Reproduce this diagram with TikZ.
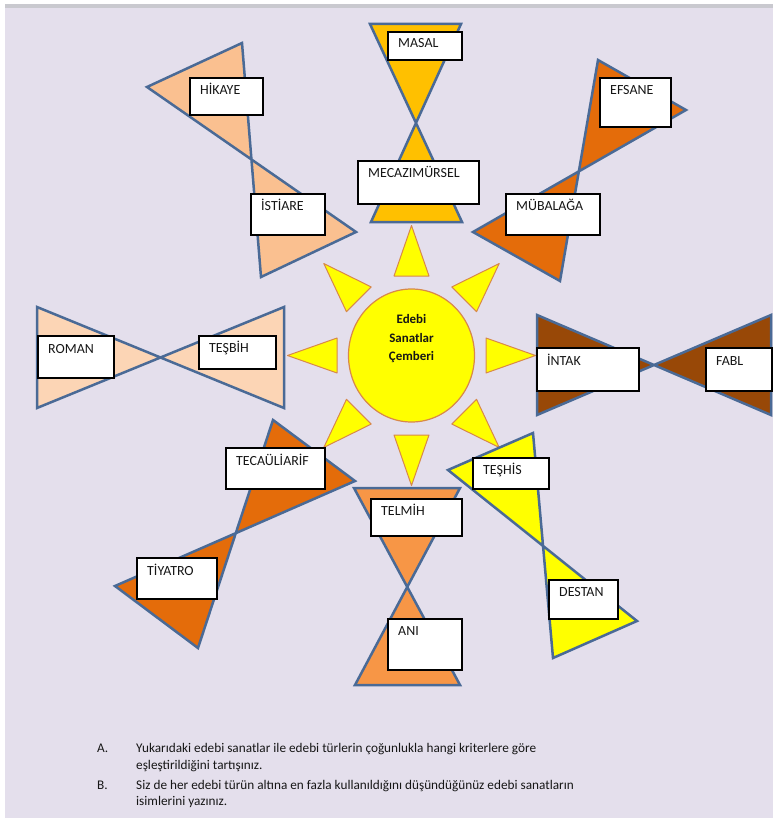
\documentclass[tikz,border=0pt]{standalone}
\usepackage{fontspec}
\setmainfont{Carlito}
\usetikzlibrary{positioning}
\definecolor{pagebg}{HTML}{E4DFEC}
\definecolor{bandgray}{HTML}{C9C9CF}
\definecolor{tieline}{HTML}{4A6A96}
\definecolor{gold}{HTML}{FFC000}
\definecolor{peach}{HTML}{FAC090}
\definecolor{lightpeach}{HTML}{FCD5B5}
\definecolor{darkorange}{HTML}{E46C0A}
\definecolor{rust}{HTML}{984807}
\definecolor{lightorange}{HTML}{F79646}
\definecolor{sunyellow}{HTML}{FFFF00}
\definecolor{sunline}{HTML}{D8884A}
\definecolor{textdark}{HTML}{161616}

\begin{document}
\begin{tikzpicture}[x=1bp,y=-1bp,
    tie/.style={draw=tieline, line width=2.5bp},
    tag/.style={draw=black, fill=white, line width=1.3bp},
    tagtext/.style={anchor=base west, inner sep=0, text=textdark, font=\fontsize{14}{16}\selectfont},
    ray/.style={fill=sunyellow, draw=sunline, line width=1bp, line join=round},
    suntext/.style={anchor=base, inner sep=0, text=textdark, font=\fontsize{13}{15}\selectfont\bfseries},
    note/.style={anchor=base west, inner sep=0, text=textdark, font=\fontsize{13.3}{15}\selectfont}]
    \useasboundingbox (0,0) rectangle (773,818);
    % page
    \fill[white] (0,0) rectangle (773,818);
    \fill[bandgray] (5,4) rectangle (773,8);
    \fill[pagebg] (5,8) rectangle (773,818);

    % sun in the middle
    \begin{scope}[shift={(411.5,355.5)}]
        \foreach \a in {0,45,...,315}
            \draw[ray] ({124*cos(\a)},{130*sin(\a)}) -- ({74.5*cos(\a)-17.5*sin(\a)},{79.5*sin(\a)+17.5*cos(\a)}) -- ({74.5*cos(\a)+17.5*sin(\a)},{79.5*sin(\a)-17.5*cos(\a)}) -- cycle;
        \draw[fill=sunyellow, draw=sunline, line width=1.2bp] (0,0) ellipse [x radius=63, y radius=66.5];
    \end{scope}
    \node[suntext] (edebi) at (411.5,323.5) {Edebi};
    \node[suntext] (sanatlar) at (411.5,342) {Sanatlar};
    \node[suntext] (cemberi) at (411.5,360) {Çemberi};

    % bow ties
    \draw[tie, fill=gold] (370,24) -- (461,24) -- (371,222) -- (462,222) -- cycle;
    \draw[tie, fill=peach] (147,87) -- (242,43) -- (261,277) -- (356,232) -- cycle;
    \draw[tie, fill=darkorange] (598,60) -- (686,110) -- (473,232) -- (560,281) -- cycle;
    \draw[tie, fill=lightpeach] (37,307) -- (37,408) -- (284,307) -- (284,408) -- cycle;
    \draw[tie, fill=rust] (537,315) -- (537,415) -- (771,315) -- (771,415) -- cycle;
    \draw[tie, fill=darkorange] (273,420) -- (355,481) -- (115,586) -- (198,648) -- cycle;
    \draw[tie, fill=sunyellow] (448,470) -- (533,433) -- (553,658) -- (637,621) -- cycle;
    \draw[tie, fill=lightorange] (354,488) -- (460,488) -- (355,685) -- (460,685) -- cycle;

    % boxes
    \draw[tag] (388,32) rectangle (462,60);
    \node[tagtext] (masal) at (398,48) {MASAL};
    \draw[tag] (358,161) rectangle (479,204);
    \node[tagtext] (mecaz) at (368,177) {MECAZIMÜRSEL};
    \draw[tag] (190,78) rectangle (263,115);
    \node[tagtext] (hikaye) at (200,94) {HİKAYE};
    \draw[tag] (251,194) rectangle (325,235);
    \node[tagtext] (istiare) at (261,210.5) {İSTİARE};
    \draw[tag] (600,78) rectangle (671,127);
    \node[tagtext] (efsane) at (610,94) {EFSANE};
    \draw[tag] (506,194) rectangle (600,235);
    \node[tagtext] (mubalaga) at (516,210.5) {MÜBALAĞA};
    \draw[tag] (38,336) rectangle (114,378);
    \node[tagtext] (roman) at (48,353) {ROMAN};
    \draw[tag] (199,336) rectangle (276,369);
    \node[tagtext] (tesbih) at (209,352) {TEŞBİH};
    \draw[tag] (537,348) rectangle (639,391);
    \node[tagtext] (intak) at (547,365) {İNTAK};
    \draw[tag] (706,348) rectangle (772,391);
    \node[tagtext] (fabl) at (716,365) {FABL};
    \draw[tag] (226,448) rectangle (325,489);
    \node[tagtext] (tecahul) at (236,465) {TECAÜLİARİF};
    \draw[tag] (137,558) rectangle (217,599);
    \node[tagtext] (tiyatro) at (147,575) {TİYATRO};
    \draw[tag] (473,458) rectangle (549,489);
    \node[tagtext] (teshis) at (483,474) {TEŞHİS};
    \draw[tag] (549,580) rectangle (618,619);
    \node[tagtext] (destan) at (559,596.5) {DESTAN};
    \draw[tag] (371,499) rectangle (462,536);
    \node[tagtext] (telmih) at (381,515) {TELMİH};
    \draw[tag] (388,619) rectangle (462,670);
    \node[tagtext] (ani) at (398,635) {ANI};

    % questions
    \node[note] (marka) at (97,752) {A.};
    \node[note] (linea) at (136,752) {Yukarıdaki edebi sanatlar ile edebi türlerin çoğunlukla hangi kriterlere göre};
    \node[note] (lineb) at (136,769) {eşleştirildiğini tartışınız.};
    \node[note] (markb) at (97,789) {B.};
    \node[note] (linec) at (136,789) {Siz de her edebi türün altına en fazla kullanıldığını düşündüğünüz edebi sanatların};
    \node[note] (lined) at (136,805) {isimlerini yazınız.};
\end{tikzpicture}
\end{document}
